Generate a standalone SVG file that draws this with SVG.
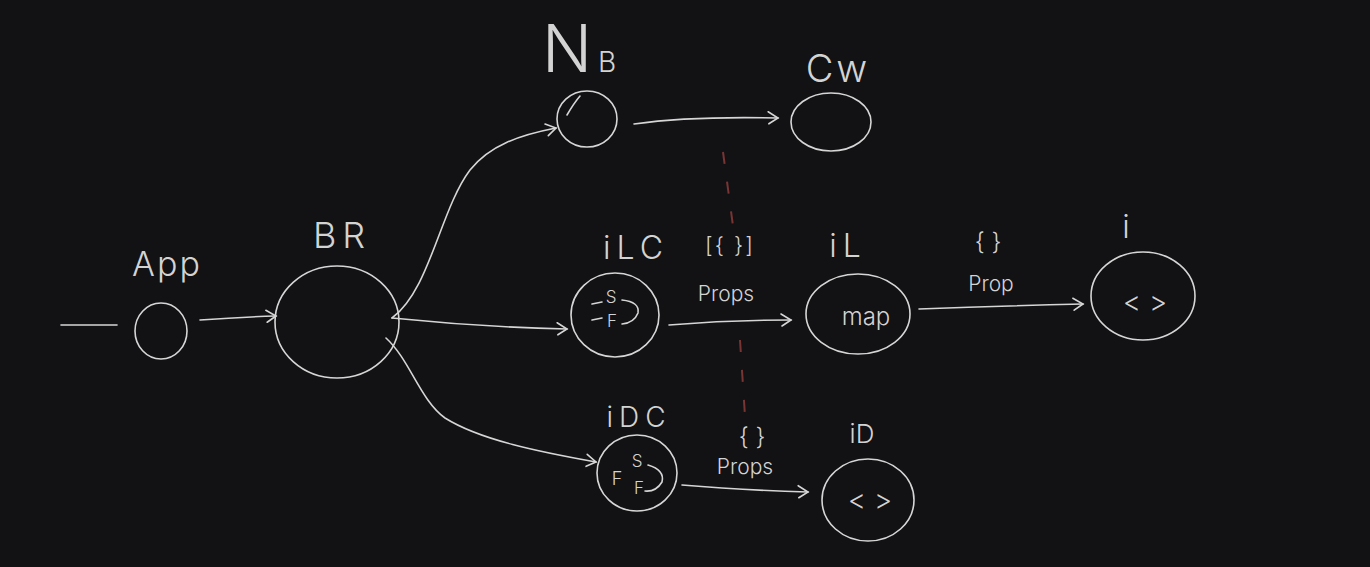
<svg xmlns="http://www.w3.org/2000/svg" width="1370" height="567" viewBox="0 0 1370 567">
<defs>
<style>
.n{fill:none;stroke:#d6d6d6;stroke-width:1.6}
.c{fill:none;stroke:#d6d6d6;stroke-width:1.6;stroke-linecap:round}
.d{fill:none;stroke:#7a3434;stroke-width:2;stroke-dasharray:12 18}
.t{fill:#d6d6d6;font-family:Inter,"Liberation Sans",sans-serif;font-weight:300;text-anchor:middle;opacity:0.99}
.w{letter-spacing:6px}
</style>
<marker id="a" markerWidth="16" markerHeight="16" refX="12" refY="8" orient="auto" markerUnits="userSpaceOnUse">
<path d="M2,2 L12,8 L3,14" fill="none" stroke="#d6d6d6" stroke-width="1.6" stroke-linecap="round"/>
</marker>
</defs>
<rect width="1370" height="567" fill="#121114"/>
<g id="connectors">
<path class="c" d="M61,325 L117,325"/>
<path class="c" d="M200,320 Q240,317 276,316" marker-end="url(#a)"/>
<path class="c" d="M392,318 C430,290 440,210 470,170 C490,145 520,135 556,128" marker-end="url(#a)"/>
<path class="c" d="M392,318 Q480,327 567,329" marker-end="url(#a)"/>
<path class="c" d="M386,338 C410,360 420,400 445,418 C480,440 540,452 596,462" marker-end="url(#a)"/>
<path class="c" d="M634,124 Q690,116 778,118" marker-end="url(#a)"/>
<path class="c" d="M669,325 Q730,320 791,320" marker-end="url(#a)"/>
<path class="c" d="M919,309 Q1000,306 1083,304" marker-end="url(#a)"/>
<path class="c" d="M682,485 Q740,490 808,492" marker-end="url(#a)"/>
<path class="d" d="M723,152 L733,226"/>
<path class="d" d="M740,340 L745,416"/>
<text class="t" x="730" y="253" font-size="22" style="letter-spacing:2px">[{ }]</text>
<text class="t" x="726" y="301" font-size="21">Props</text>
<text class="t" x="988" y="250" font-size="24">{ }</text>
<text class="t" x="991" y="291" font-size="21">Prop</text>
<text class="t" x="752" y="445" font-size="24">{ }</text>
<text class="t" x="745" y="474" font-size="21">Props</text>
</g>
<g id="App">
<ellipse class="n" cx="161" cy="331" rx="26" ry="28"/>
<text class="t" x="167" y="276" font-size="34" style="letter-spacing:2px">App</text>
</g>
<g id="BR">
<ellipse class="n" cx="337" cy="322" rx="62" ry="56"/>
<text class="t w" x="342" y="248" font-size="36">BR</text>
</g>
<g id="NB">
<ellipse class="n" cx="587" cy="119" rx="30" ry="28"/>
<path class="c" d="M567,115 Q574,103 580,96"/>
<text class="t" x="567" y="72" font-size="66">N</text>
<text class="t" x="607" y="72" font-size="28">B</text>
</g>
<g id="Cw">
<ellipse class="n" cx="831" cy="122" rx="40" ry="29"/>
<text class="t" x="838" y="82" font-size="38" style="letter-spacing:3px">Cw</text>
</g>
<g id="iLC">
<ellipse class="n" cx="615" cy="315" rx="44" ry="42"/>
<text class="t w" x="636" y="259" font-size="32">iLC</text>
<path class="c" d="M592,304 L602,302 M592,320 L602,318"/>
<text class="t" x="611" y="303" font-size="17">S</text>
<text class="t" x="612" y="327" font-size="17">F</text>
<path class="c" d="M622,300 Q640,302 638,313 Q634,323 622,324"/>
</g>
<g id="iL">
<ellipse class="n" cx="858" cy="314" rx="52" ry="40"/>
<text class="t w" x="848" y="257" font-size="32">iL</text>
<text class="t" x="866" y="325" font-size="24">map</text>
</g>
<g id="i">
<ellipse class="n" cx="1143" cy="296" rx="52" ry="44"/>
<text class="t" x="1126" y="238" font-size="32">i</text>
<text class="t" x="1145" y="312" font-size="28">&lt; &gt;</text>
</g>
<g id="iDC">
<ellipse class="n" cx="637" cy="473" rx="40" ry="38"/>
<text class="t w" x="639" y="427" font-size="28">iDC</text>
<text class="t" x="617" y="485" font-size="18">F</text>
<text class="t" x="637" y="467" font-size="17">S</text>
<text class="t" x="639" y="494" font-size="17">F</text>
<path class="c" d="M648,465 Q665,470 662,482 Q656,492 645,491"/>
</g>
<g id="iD">
<ellipse class="n" cx="868" cy="500" rx="46" ry="41"/>
<text class="t" x="862" y="443" font-size="26">iD</text>
<text class="t" x="870" y="510" font-size="28">&lt; &gt;</text>
</g>
</svg>
